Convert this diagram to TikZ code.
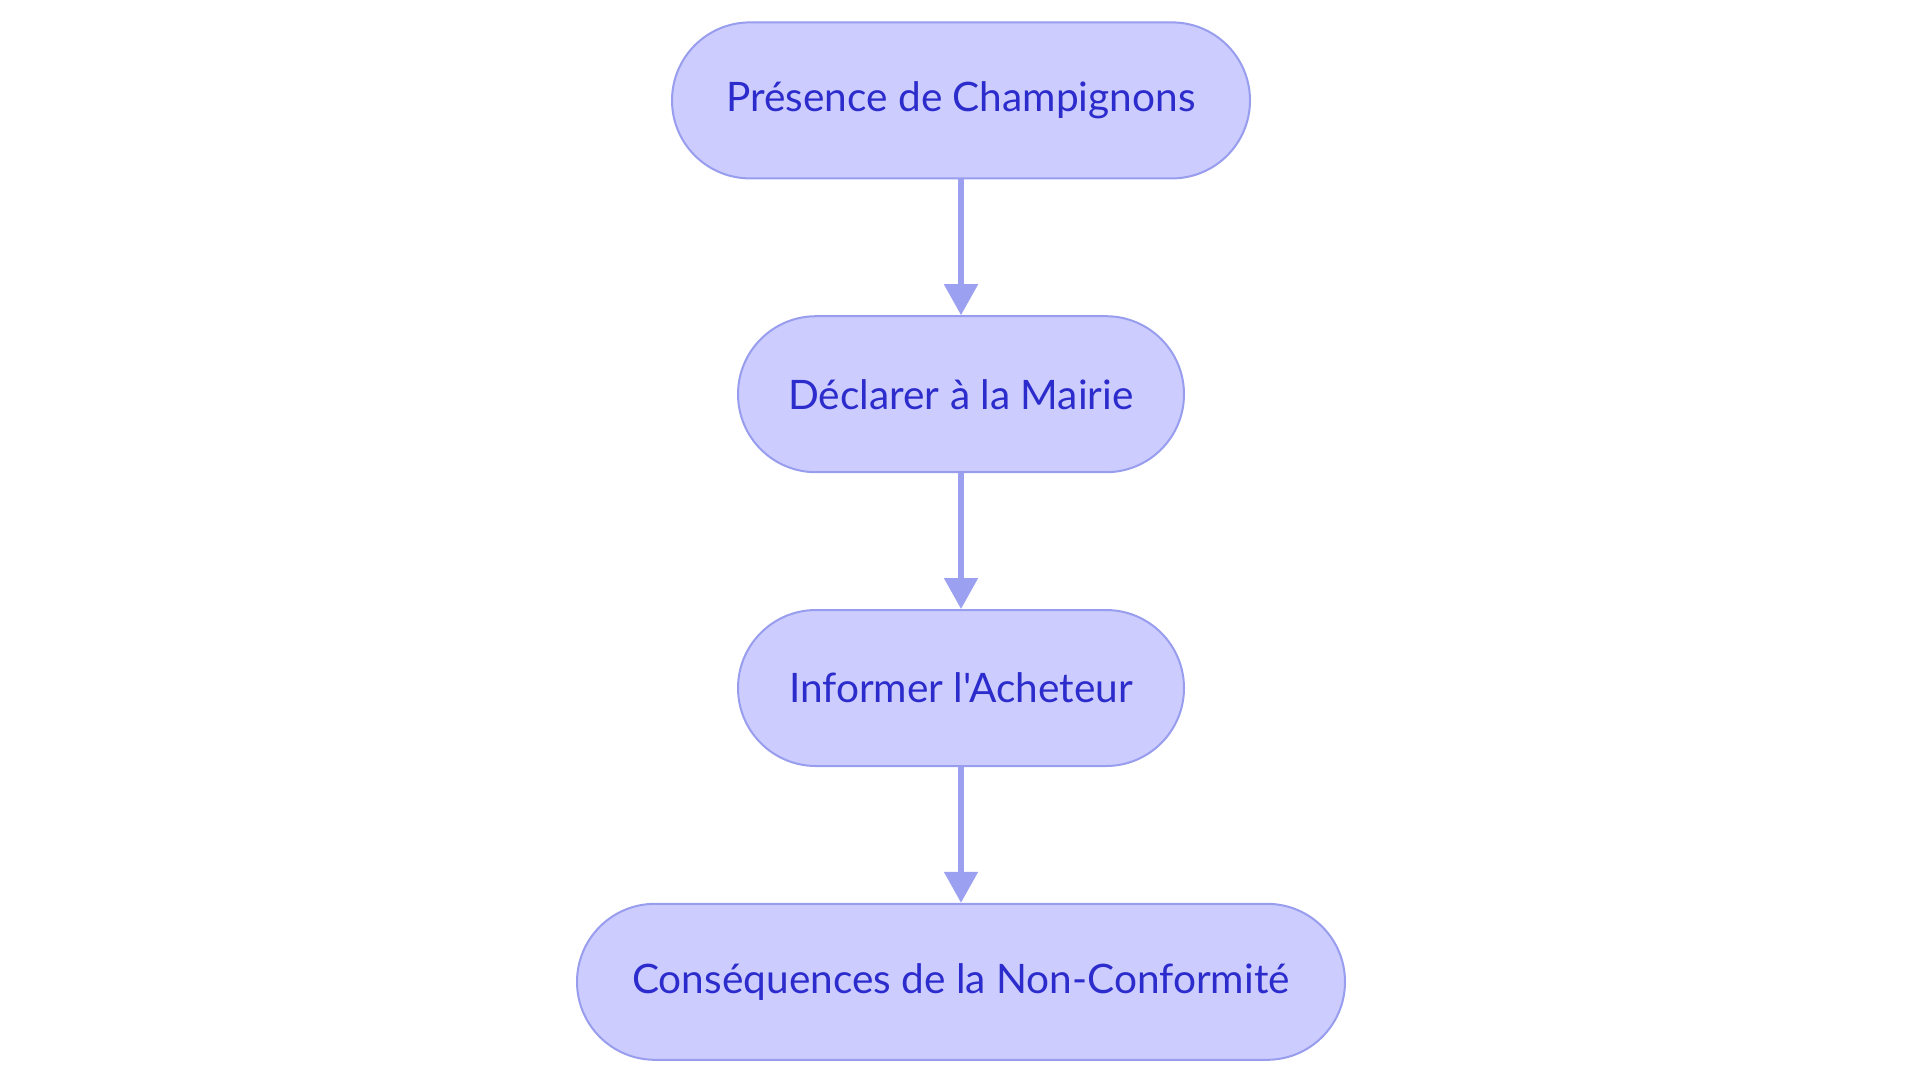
\documentclass[tikz,border=0pt]{standalone}
\usepackage{fontspec}
\setmainfont{Lato}[Ligatures=TeXOff]
\usepackage{tikz}
\usetikzlibrary{positioning,arrows.meta}
\definecolor{boxfill}{RGB}{204,204,255}
\definecolor{boxline}{RGB}{152,157,238}
\definecolor{boxtext}{RGB}{44,44,204}
\definecolor{arrowcol}{RGB}{155,160,240}

\begin{document}
\begin{tikzpicture}[
	x=1pt, y=1pt,
	node distance=67.9pt,
	etape/.style={draw=boxline, fill=boxfill, line width=1pt, text=boxtext,
		rounded corners=39pt, minimum height=78pt, inner sep=0pt,
		font=\fontsize{20.3}{24}\selectfont},
	fleche/.style={draw=arrowcol, line width=2.6pt,
		-{Triangle[width=16.5pt,length=15.5pt]}}
	]
	\useasboundingbox (0,0) rectangle (960,-541.5);
	%%%%%%%%%%%%%%%%%%%%%%%%%%%%%%%%
	\node[etape, minimum width=289pt] (champ) at (480.5,-50.2) {Présence de Champignons};
	\node[etape, minimum width=223pt, below=of champ] (mairie) {Déclarer à la Mairie};
	\node[etape, minimum width=223pt, below=of mairie] (acheteur) {Informer l'Acheteur};
	\node[etape, minimum width=384pt, below=of acheteur] (conseq) {Conséquences de la Non-Conformité};
	%%%%%%%%%%%%%%%%%%%%%%%%%%%%%
	\draw[fleche] (champ) -- (mairie);
	\draw[fleche] (mairie) -- (acheteur);
	\draw[fleche] (acheteur) -- (conseq);
\end{tikzpicture}
\end{document}
